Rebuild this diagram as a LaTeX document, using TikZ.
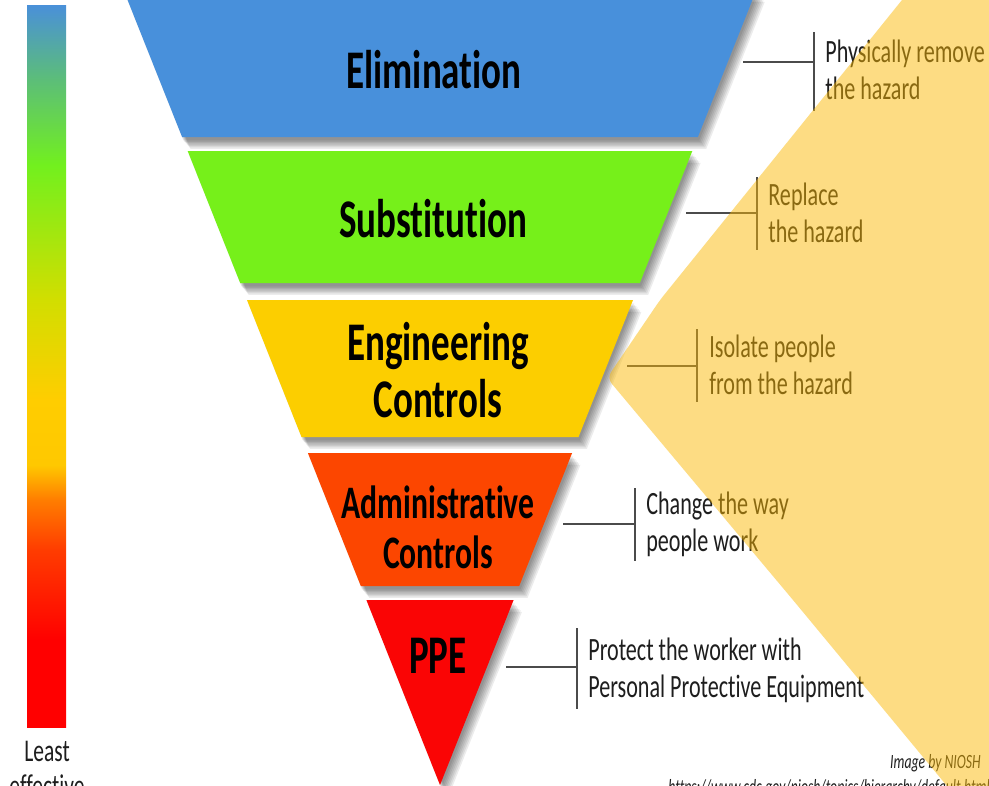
\documentclass[tikz,border=0pt]{standalone}
\usepackage{fontspec}
\setmainfont{Carlito}[FakeStretch=0.68,Ligatures=NoCommon]
\definecolor{cBlue}{RGB}{72,144,219}
\definecolor{cGreen}{RGB}{118,240,26}
\definecolor{cYellow}{RGB}{252,206,0}
\definecolor{cOrange}{RGB}{252,70,0}
\definecolor{cRed}{RGB}{250,5,5}
\definecolor{ovl}{RGB}{251,185,4}
\definecolor{linegray}{RGB}{75,75,75}
\definecolor{txt}{RGB}{30,30,30}
\definecolor{gRed}{RGB}{255,0,0}
\definecolor{gRO}{RGB}{255,60,0}
\definecolor{gOr}{RGB}{255,125,0}
\definecolor{gYe}{RGB}{255,200,0}
\definecolor{gYe2}{RGB}{255,205,0}
\definecolor{gYG}{RGB}{210,222,0}
\definecolor{gGr}{RGB}{114,240,30}
\definecolor{gTe}{RGB}{92,190,120}
\definecolor{gBl}{RGB}{74,144,217}
\pgfdeclareverticalshading{effbar}{100bp}{color(0bp)=(gRed); color(31bp)=(gRed); color(37.26bp)=(gRO); color(40.72bp)=(gOr); color(43.14bp)=(gYe); color(47.65bp)=(gYe2); color(54.57bp)=(gYG); color(63.92bp)=(gGr); color(69.8bp)=(gTe); color(75bp)=(gBl); color(100bp)=(gBl)}
\newcommand\trapshadow[1]{%
  \foreach \d in {1,...,7} {\fill[black, opacity=0.075, shift={(\d*1.2,2+\d*1.4)}] #1;}}
\begin{document}
\begin{tikzpicture}[x=0.02cm,y=-0.02cm,
  lvl/.style={font=\fontsize{31}{32.4}\selectfont\bfseries, text=black, align=center, inner sep=0},
  side/.style={font=\fontsize{18.5}{21}\selectfont, text=txt, align=left, anchor=west, inner sep=0},
  conn/.style={draw=linegray, line width=1.2pt},
  small/.style={font=\fontsize{11.5}{13}\selectfont\itshape, text=txt, inner sep=0}]
\useasboundingbox (0,0) rectangle (989,785);
\clip (0,0) rectangle (989,785);
\fill[white] (0,0) rectangle (989,785);

% shadows
\trapshadow{(123.6,-10) -- (756.4,-10) -- (697.9,137) -- (182.1,137) -- cycle}
\trapshadow{(187.7,151) -- (692.3,151) -- (639.8,283) -- (240.2,283) -- cycle}
\trapshadow{(247,300) -- (633,300) -- (578.5,437) -- (301.5,437) -- cycle}
\trapshadow{(307.9,453) -- (572.1,453) -- (519.2,586) -- (360.8,586) -- cycle}
\trapshadow{(366.4,600) -- (513.6,600) -- (440,785) -- cycle}

% levels
\fill[cBlue] (123.6,-10) -- (756.4,-10) -- (697.9,137) -- (182.1,137) -- cycle;
\fill[cGreen] (187.7,151) -- (692.3,151) -- (639.8,283) -- (240.2,283) -- cycle;
\fill[cYellow] (247,300) -- (633,300) -- (578.5,437) -- (301.5,437) -- cycle;
\fill[cOrange] (307.9,453) -- (572.1,453) -- (519.2,586) -- (360.8,586) -- cycle;
\fill[cRed] (366.4,600) -- (513.6,600) -- (440,785) -- cycle;

\node[lvl, anchor=base] (elim) at (434,88) {Elimination};
\node[lvl, anchor=base] (subst) at (433,237) {Substitution};
\node[lvl] (eng) at (438,370) {Engineering\\Controls};
\node[lvl, font=\fontsize{26.5}{28.4}\selectfont\bfseries] (adm) at (438,527) {Administrative\\Controls};
\node[lvl, anchor=base] (ppe) at (438,673) {PPE};

% effectiveness bar
\shade[shading=effbar] (27,5) rectangle (66,727);
\node[side, anchor=north, align=center, font=\fontsize{18}{20}\selectfont] (least) at (47,741) {Least\\effective};

% connectors
\coordinate (h1) at (743,62);  \coordinate (b1t) at (814,32);  \coordinate (b1b) at (814,111);
\coordinate (h2) at (686,213); \coordinate (b2t) at (757,177); \coordinate (b2b) at (757,250);
\coordinate (h3) at (627,366); \coordinate (b3t) at (697,329); \coordinate (b3b) at (697,402);
\coordinate (h4) at (563,524); \coordinate (b4t) at (635,488); \coordinate (b4b) at (635,561);
\coordinate (h5) at (506,667); \coordinate (b5t) at (577,628); \coordinate (b5b) at (577,709);
\foreach \i in {1,...,5} {
  \draw[conn] (b\i t) -- (b\i b);
  \draw[conn] (h\i) -- (h\i -| b\i t);
}
\node[side] (t1) at (825,70) {Physically remove\\the hazard};
\node[side] (t2) at (768,213) {Replace\\the hazard};
\node[side] (t3) at (709,365) {Isolate people\\from the hazard};
\node[side] (t4) at (646,524) {Change the way\\people work};
\node[side] (t5) at (588,670) {Protect the worker with\\Personal Protective Equipment};

\node[small, anchor=base east] (credit) at (981,768) {Image by NIOSH};
\node[small, anchor=base west] (url) at (668,793) {https://www.cdc.gov/niosh/topics/hierarchy/default.html};

% translucent overlay
\fill[ovl, opacity=0.49, rounded corners=4pt] (906,-5) -- (1000,-5) -- (1000,850) -- (793,600) -- (607,378) -- (660,300) -- cycle;
\end{tikzpicture}
\end{document}
